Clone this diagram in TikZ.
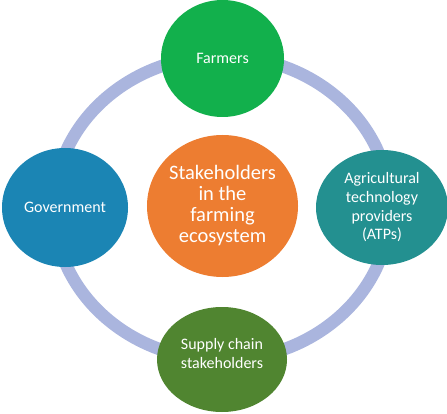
\documentclass[tikz,border=0pt]{standalone}
\usepackage{fontspec}
\setmainfont{Carlito}
\usetikzlibrary{shapes.geometric}
\definecolor{ringc}{RGB}{170,181,222}
\definecolor{farmg}{RGB}{18,176,76}
\definecolor{govb}{RGB}{27,133,180}
\definecolor{atpt}{RGB}{35,144,144}
\definecolor{supg}{RGB}{80,133,48}
\definecolor{ctro}{RGB}{237,125,49}
\begin{document}
\begin{tikzpicture}[x=1pt,y=-1pt,
  blob/.style={ellipse, inner sep=0pt, text=white, align=center,
    font=\fontsize{16}{18.7}\selectfont},
  bigblob/.style={blob, font=\fontsize{20.5}{21}\selectfont}]
\useasboundingbox (0,0) rectangle (447,414);
\draw[ringc, line width=12.5pt] (222,208) ellipse [x radius=168, y radius=152];
\node[blob, fill=farmg, minimum width=123, minimum height=117] (farmers) at (222.5,58.5) {Farmers};
\node[blob, fill=govb, minimum width=126, minimum height=119] (gov) at (65,207.5) {Government};
\node[blob, fill=atpt, minimum width=132, minimum height=115] (atp) at (382,207.5) {Agricultural\\technology\\providers\\(ATPs)};
\node[blob, fill=supg, minimum width=130, minimum height=105,
  label={[name=suptext, blob, yshift=6pt]center:Supply chain\\stakeholders}] (supply) at (222,359.5) {};
\node[bigblob, fill=ctro, minimum width=151, minimum height=142] (center) at (222.5,206) {Stakeholders\\in the\\farming\\ecosystem};
\end{tikzpicture}
\end{document}
